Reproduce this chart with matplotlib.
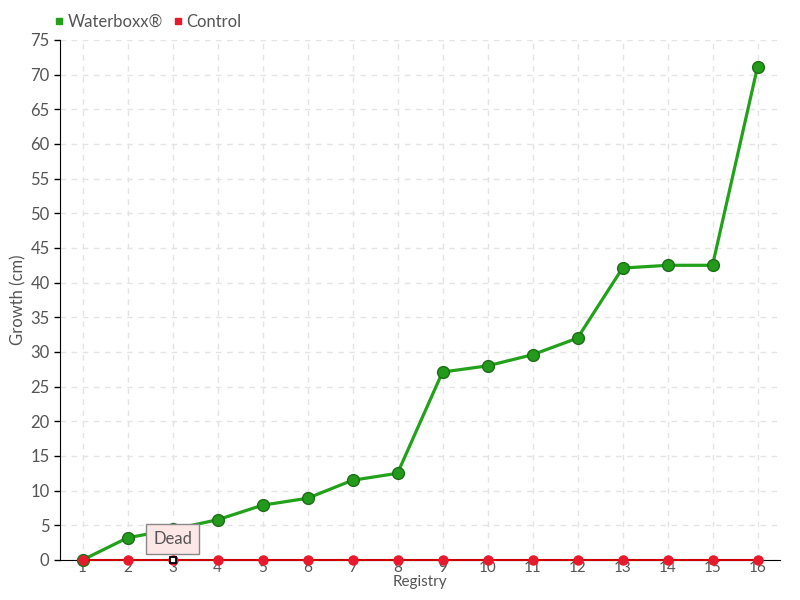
import numpy as np
import matplotlib
matplotlib.use('Agg')
import matplotlib.pyplot as plt

# data
registry = list(range(1, 17))
waterboxx = [0, 3.2, 4.4, 5.8, 7.9, 8.9, 11.5, 12.5, 27.1, 28.0, 29.6, 32.0, 42.1, 42.5, 42.5, 71.1]
control = [0] * 16

plt.rcParams['font.family'] = ['Lato', 'DejaVu Sans']
plt.rcParams['font.size'] = 10

fig = plt.figure(figsize=(8, 6), dpi=100)
ax = fig.add_axes([0.075, 0.0667, 0.9, 0.8667])

green = '#22a11a'
red = '#e8192c'

ax.plot(registry, waterboxx, color=green, linewidth=2.3, marker='o', markersize=8.5,
        markerfacecolor='#229a1a', markeredgecolor='#1d6e16', markeredgewidth=1,
        zorder=3, clip_on=False, label='Waterboxx®')
ax.plot(registry, control, color='#cc0000', linewidth=1.5, marker='o', markersize=6.5,
        markerfacecolor=red, markeredgecolor=red, zorder=4, clip_on=False, label='Control')

# hovered point
ax.plot([3], [control[2]], marker='s', markersize=5, markerfacecolor='white',
        markeredgecolor='black', markeredgewidth=1.3, linestyle='none', zorder=6, clip_on=False)
ax.annotate('Dead', xy=(3, control[2]), xytext=(0, 21), textcoords='offset pixels',
            ha='center', va='center', fontsize=12, color='#555555', zorder=7,
            bbox=dict(boxstyle='square,pad=0.4', facecolor='#fde6e6', edgecolor='#888888', linewidth=1))

ax.set_xlim(0.5, 16.5)
ax.set_ylim(0, 75)
ax.set_xticks(registry)
ax.set_yticks(np.arange(0, 76, 5))
ax.tick_params(axis='x', length=0, pad=1, labelcolor='#555555', labelsize=11)
ax.tick_params(axis='y', length=4, width=1, direction='out', labelcolor='#555555', labelsize=12)

ax.grid(True, linestyle=(0, (4, 4)), color='#e4e4e4', linewidth=1)
ax.set_axisbelow(True)
for s in ['top', 'right']:
    ax.spines[s].set_visible(False)
ax.spines['left'].set_color('black')
ax.spines['bottom'].set_color('black')

ax.set_xlabel('Registry', color='#555555', fontsize=11, labelpad=0)
ax.set_ylabel('Growth (cm)', color='#555555', fontsize=12, labelpad=3)

leg = ax.legend(loc='lower left', bbox_to_anchor=(-0.022, 1.0), ncol=2, frameon=False,
                handlelength=0.6, handletextpad=0.2, columnspacing=0.6, fontsize=12,
                borderaxespad=0.2)
for h, c in zip(leg.legend_handles, [green, red]):
    h.set_linestyle('none')
    h.set_marker('s')
    h.set_markersize(5)
    h.set_markerfacecolor(c)
    h.set_markeredgecolor(c)
for t in leg.get_texts():
    t.set_color('#555555')

fig.savefig('out.png', dpi=100)
